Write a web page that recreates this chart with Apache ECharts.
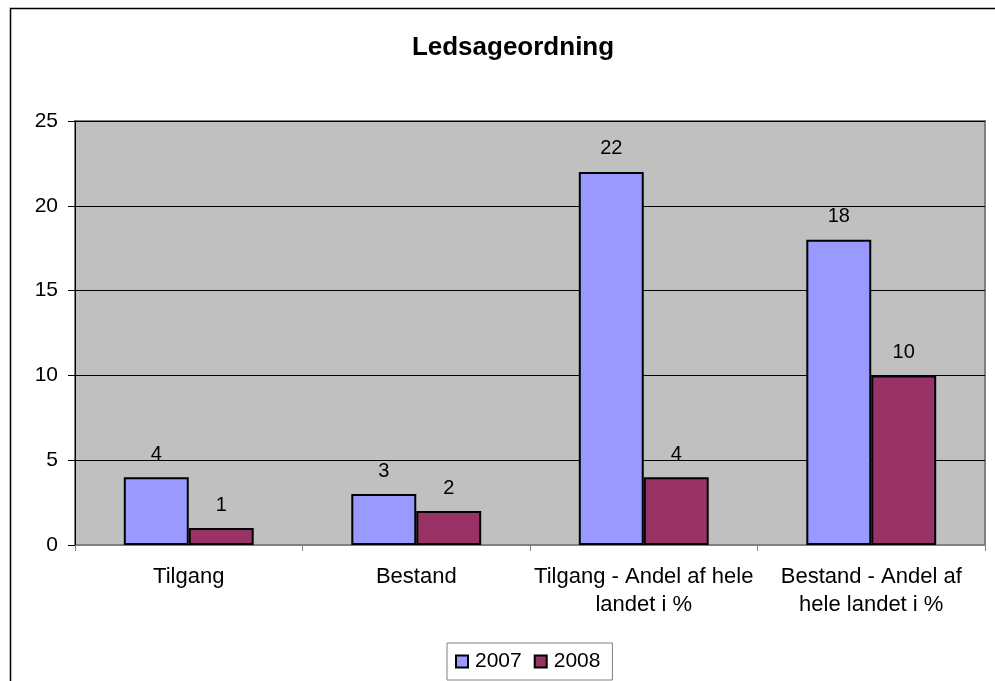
<!DOCTYPE html>
<html><head><meta charset="utf-8">
<script src="https://cdn.jsdelivr.net/npm/echarts@6/dist/echarts.min.js"></script>
<style>html,body{margin:0;padding:0;background:#fff}#c{width:995px;height:681px}</style>
</head><body><div id="c"></div>
<script>
const categories = ['Tilgang', 'Bestand', 'Tilgang - Andel af hele\nlandet i %', 'Bestand - Andel af\nhele landet i %'];
const values2007 = [4, 3, 22, 18];
const values2008 = [1, 2, 4, 10];
const seriesNames = ['2007', '2008'];
const chart = echarts.init(document.getElementById('c'), null, {renderer: 'canvas'});
const font = 'Liberation Sans, Arial, sans-serif';
const lbl = {show: true, position: 'top', distance: 13, color: '#000', fontSize: 20, fontFamily: font};
chart.setOption({
  animation: false,
  graphic: [{type: 'rect', shape: {x: 10.5, y: 8.5, width: 1100, height: 700}, style: {fill: 'none', stroke: '#000', lineWidth: 1.5}, z: -10}],
  title: {text: 'Ledsageordning', left: 508, top: 30, textAlign: 'center', textStyle: {fontFamily: font, fontSize: 26, fontWeight: 'bold', color: '#000'}},
  legend: {top: 643, left: 447, itemWidth: 12, itemHeight: 12, itemGap: 12, backgroundColor: '#fff', borderColor: '#808080', borderWidth: 1, padding: [8, 12, 8, 8],
    textStyle: {fontFamily: font, fontSize: 21, color: '#000', padding: [0, 0, 0, 2]}, icon: 'rect', data: seriesNames},
  grid: {left: 75, right: 10, top: 121, bottom: 136, backgroundColor: '#C0C0C0', show: true, borderColor: '#808080', borderWidth: 2},
  xAxis: {type: 'category', data: categories,
    axisLine: {lineStyle: {color: '#808080', width: 1}},
    axisTick: {show: true, length: 6, lineStyle: {color: '#808080'}},
    axisLabel: {interval: 0, color: '#000', fontSize: 22, fontFamily: font, margin: 18, lineHeight: 28}},
  yAxis: {type: 'value', min: 0, max: 25, interval: 5,
    axisLine: {show: true, lineStyle: {color: '#000', width: 1}},
    axisTick: {show: true, length: 7, lineStyle: {color: '#000'}},
    splitLine: {lineStyle: {color: '#000', width: 1}},
    axisLabel: {color: '#000', fontSize: 21, fontFamily: font, margin: 17}},
  series: [
    {name: seriesNames[0], type: 'bar', data: values2007, barGap: '0%', barCategoryGap: '42.9%',
      itemStyle: {color: '#9999FF', borderColor: '#000', borderWidth: 2}, label: lbl},
    {name: seriesNames[1], type: 'bar', data: values2008,
      itemStyle: {color: '#993366', borderColor: '#000', borderWidth: 2}, label: lbl}
  ]
});
</script></body></html>
